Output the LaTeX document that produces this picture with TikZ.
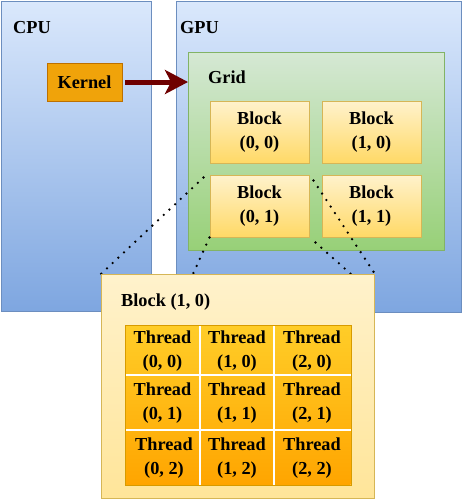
\documentclass[tikz,border=0pt]{standalone}
\usepackage{fontspec}
\setmainfont{Liberation Serif}
\usetikzlibrary{arrows.meta,calc}
\definecolor{pnltop}{HTML}{DAE8FC}
\definecolor{pnlbot}{HTML}{7EA6E0}
\definecolor{pnlline}{HTML}{6C8EBF}
\definecolor{grdtop}{HTML}{D5E8D4}
\definecolor{grdbot}{HTML}{97D077}
\definecolor{grdline}{HTML}{82B366}
\definecolor{blktop}{HTML}{FFF2CC}
\definecolor{blkbot}{HTML}{FFD966}
\definecolor{blkline}{HTML}{D6B656}
\definecolor{bigbot}{HTML}{FFE599}
\definecolor{thrtop}{HTML}{FFCD28}
\definecolor{thrbot}{HTML}{FFA500}
\definecolor{thrline}{HTML}{D79B00}
\definecolor{kerfill}{HTML}{F0A30A}
\definecolor{kerline}{HTML}{BD7000}
\definecolor{arrcol}{HTML}{6F0000}
\tikzset{
  txt/.style={font=\fontsize{18.3}{23.5}\selectfont\bfseries, align=center, inner sep=0pt},
  panel/.style={draw=pnlline, line width=1pt, top color=pnltop, bottom color=pnlbot, anchor=north west, inner sep=0pt},
  gridbox/.style={draw=grdline, line width=1pt, top color=grdtop, bottom color=grdbot, anchor=north west, inner sep=0pt},
  blockbox/.style={draw=blkline, line width=1pt, top color=blktop, bottom color=blkbot, minimum width=99pt, minimum height=62pt, txt},
  bigbox/.style={draw=blkline, line width=1pt, top color=blktop, bottom color=bigbot, anchor=north west, inner sep=0pt},
  thrbox/.style={draw=thrline, line width=1pt, top color=thrtop, bottom color=thrbot, anchor=north west, inner sep=0pt},
  kernbox/.style={draw=kerline, line width=1pt, fill=kerfill, minimum width=75pt, minimum height=38pt, txt},
  dotline/.style={line width=2.6pt, line cap=round, dash pattern=on 0pt off 7.8pt},
  divider/.style={draw=white, line width=1.5pt},
}
\begin{document}
\begin{tikzpicture}[x=1pt,y=-1pt]
\useasboundingbox (0,0) rectangle (463,501);
% panels
\node[panel, minimum width=150pt, minimum height=310pt] (cpu) at (1,1) {};
\node[panel, minimum width=285pt, minimum height=311pt] (gpu) at (176,1) {};
\node[txt, anchor=base west] (cpulbl) at (13,33) {CPU};
\node[txt, anchor=base west] (gpulbl) at (180,33) {GPU};
% kernel
\node[kernbox] (kernel) at (84.5,82) {Kernel};
% grid
\node[gridbox, minimum width=256pt, minimum height=198pt] (grid) at (188,52) {};
\node[txt, anchor=base west] (gridlbl) at (208,83) {Grid};
% blocks
\node[blockbox] (b00) at (259.5,132) {Block\\(0, 0)};
\node[blockbox] (b10) at (371.5,132) {Block\\(1, 0)};
\node[blockbox] (b01) at (259.5,206) {Block\\(0, 1)};
\node[blockbox] (b11) at (371.5,206) {Block\\(1, 1)};
% arrow
\draw[arrcol, line width=5pt, -{Stealth[length=23pt,width=24pt,inset=6pt]}]
  ($(kernel.east)+(2.5,0)$) -- (grid.west |- kernel.east);
% big block
\node[bigbox, minimum width=273pt, minimum height=224pt] (big) at (101,274) {};
% dotted lines
\coordinate (d1s) at ($(b01.north west)+(-6,3)$);
\coordinate (d2e) at ($(big.north west)+(92,0)$);
\coordinate (d3s) at ($(b01.north east)+(4,6)$);
\coordinate (d4s) at ($(b01.south east)+(6,5)$);
\coordinate (d4e) at ($(big.north west)+(251,1)$);
\draw[dotline] (d1s) -- (big.north west);
\draw[dotline] (b01.south west) -- (d2e);
\draw[dotline] (d3s) -- (big.north east);
\draw[dotline] (d4s) -- (d4e);
% redraw big block on top of dotted line ends
\node[bigbox, minimum width=273pt, minimum height=224pt] (big2) at (101,274) {};
\node[txt, anchor=base west] (biglbl) at (121,306) {Block (1, 0)};
% threads
\node[thrbox, draw=none, minimum width=225pt, minimum height=159pt] (tg) at (125,325) {};
\draw[divider] ($(tg.north west)+(75,0)$) -- ($(tg.south west)+(75,0)$);
\draw[divider] ($(tg.north west)+(149,0)$) -- ($(tg.south west)+(149,0)$);
\draw[divider] ($(tg.north west)+(0,50)$) -- ($(tg.north east)+(0,50)$);
\draw[divider] ($(tg.north west)+(0,105)$) -- ($(tg.north east)+(0,105)$);
\draw[draw=thrline, line width=1pt] (tg.north west) rectangle (tg.south east);
\node[txt] (t00) at (162.5,351) {Thread\\(0, 0)};
\node[txt] (t10) at (237,351) {Thread\\(1, 0)};
\node[txt] (t20) at (312,351) {Thread\\(2, 0)};
\node[txt] (t01) at (162.5,403) {Thread\\(0, 1)};
\node[txt] (t11) at (237,403) {Thread\\(1, 1)};
\node[txt] (t21) at (312,403) {Thread\\(2, 1)};
\node[txt] (t02) at (164,458) {Thread\\(0, 2)};
\node[txt] (t12) at (237,458) {Thread\\(1, 2)};
\node[txt] (t22) at (312,458) {Thread\\(2, 2)};
\end{tikzpicture}
\end{document}
